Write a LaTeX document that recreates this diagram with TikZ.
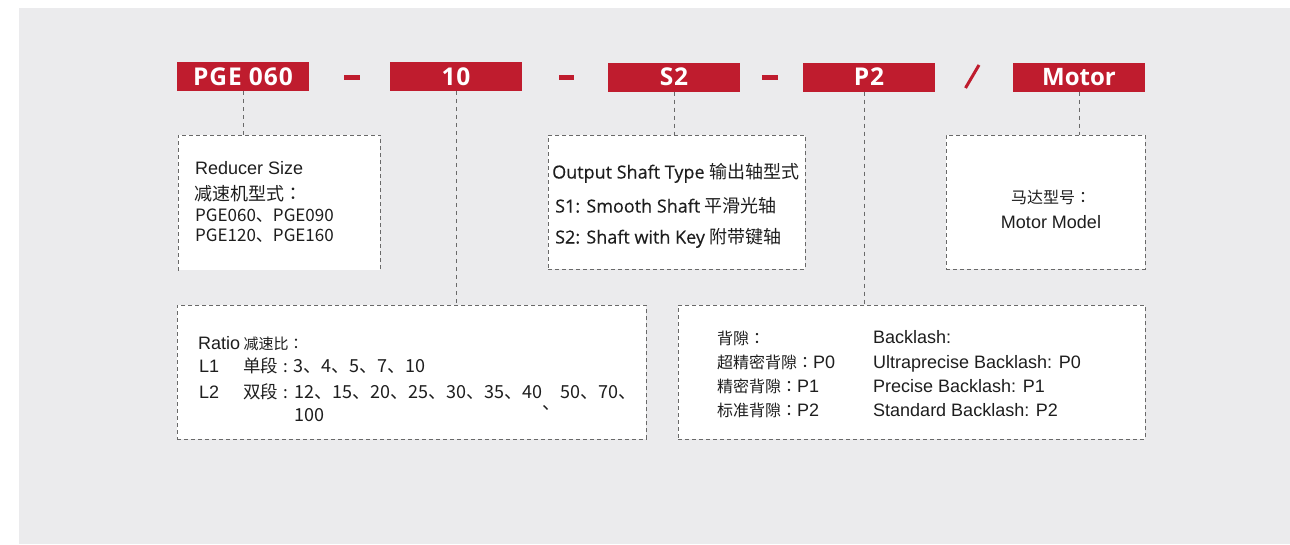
\documentclass[tikz,border=0pt]{standalone}
\usepackage{fontspec}
\setmainfont{Liberation Sans}
\newfontfamily\cjk{Noto Sans CJK SC}
\newfontfamily\cjktc{Noto Sans CJK TC}
\newfontfamily\osans{Open Sans}
\definecolor{bg}{RGB}{235,235,237}
\definecolor{brand}{RGB}{191,28,46}
\definecolor{dashc}{RGB}{105,105,105}
\definecolor{txt}{RGB}{30,30,30}
\newcommand{\fsz}[1]{\fontsize{#1}{#1}\selectfont}
\newcommand{\zc}{{\cjktc ：}}
\begin{document}
\begin{tikzpicture}[x=1pt,y=-1pt,
  redbox/.style={fill=brand, text=white, font=\osans\bfseries\fsz{24}, minimum width=132pt, minimum height=29pt, inner sep=0pt},
  wide/.style={font=\osans\bfseries\fsz{24.5}\addfontfeature{LetterSpace=4}},
  infobox/.style={fill=white, draw=dashc, line width=0.9pt, dash pattern=on 4pt off 3pt, inner sep=0pt, anchor=north west},
  border/.style={draw=dashc, line width=0.9pt, dash pattern=on 4pt off 3pt},
  conn/.style={draw=dashc, line width=1pt, dash pattern=on 4pt off 4pt},
  lat/.style={anchor=base west, inner sep=0pt, text=txt, font=\fsz{18}},
  cj/.style={anchor=base west, inner sep=0pt, text=txt, font=\cjk\fsz{17}},
  os/.style={anchor=base west, inner sep=0pt, text=txt, font=\osans\fsz{18}\addfontfeature{FakeBold=0.35}},
  sep/.style={fill=brand}]
\useasboundingbox (0,0) rectangle (1290,544);
\fill[white] (0,0) rectangle (1290,544);
\fill[bg] (19,8) rectangle (1290,544);

% code bar
\node[redbox, wide] (b1) at (243,76.5) {PGE\kern7pt 060};
\node[redbox, wide] (b2) at (456,76.5) {10};
\node[redbox, wide] (b3) at (674,77) {S2};
\node[redbox, wide] (b4) at (869,77) {P2};
\node[redbox] (b5) at (1079,77) {Motor};
\fill[sep] (344,75) rectangle (360,79.5);
\fill[sep] (559,75) rectangle (574,79.5);
\fill[sep] (762,75) rectangle (778,79.5);
\draw[brand, line width=3pt] (979,65) -- (965.5,88);

% boxes
\node[infobox, draw=none, minimum width=202pt, minimum height=135pt] (size) at (178,135) {};
\draw[border] (size.south west) -- (size.north west) -- (size.north east) -- (size.south east);
\node[infobox, minimum width=257pt, minimum height=134pt] (shaft) at (548,135) {};
\node[infobox, minimum width=199pt, minimum height=134pt] (motor) at (946,135) {};
\node[infobox, minimum width=469pt, minimum height=134pt] (ratio) at (177,305) {};
\node[infobox, minimum width=467pt, minimum height=134pt] (back) at (678,305) {};

% connectors
\coordinate (c4) at (864,200);
\draw[conn] (b1.south) -- (b1.south |- size.north);
\draw[conn] (b2.south) -- (b2.south |- ratio.north);
\draw[conn] (b3.south) -- (b3.south |- shaft.north);
\draw[conn] (b4.south -| c4) -- (c4 |- back.north);
\draw[conn] (b5.south) -- (b5.south |- motor.north);

% reducer size
\node[lat] (s1) at (195,174.5) {Reducer Size};
\node[cj, font=\cjk\fsz{18}] (s2) at (194,200) {减速机型式\zc};
\node[cj] (s3) at (195,221) {PGE060、PGE090};
\node[cj] (s4) at (195,241) {PGE120、PGE160};

% output shaft
\node[os] (o1) at (552,178.5) {Output Shaft Type {\cjk 输出轴型式}};
\node[os] (o2) at (555,212.5) {S1: Smooth Shaft {\cjk 平滑光轴}};
\node[os] (o3) at (555,243.5) {S2: Shaft with Key {\cjk 附带键轴}};

% motor
\node[cj, anchor=base, font=\cjk\fsz{16}] (m1) at (1051,203.5) {马达型号\zc};
\node[lat, anchor=base] (m2) at (1051,228.5) {Motor Model};

% ratio
\node[lat] (r1) at (198,349.5) {Ratio{\cjk\fsz{15} 减速比\zc}};
\node[lat] (r2) at (199,372.5) {L1};
\node[cj, font=\cjk\fsz{17.5}] (r3) at (243,372.5) {单段};
\node[cj] (r4) at (283,372.5) {:};
\node[cj, font=\cjk\fsz{18}] (r5) at (293,372.5) {3、4、5、7、10};
\node[lat] (r6) at (199,398.5) {L2};
\node[cj, font=\cjk\fsz{17.5}] (r7) at (243,398.5) {双段};
\node[cj] (r8) at (283,398.5) {:};
\node[cj, font=\cjk\fsz{18}] (r9) at (294,398.5) {12、15、20、25、30、35、40\makebox[0pt][l]{\hspace{0.02em}\raisebox{-0.6em}{、}}\hspace{1.05em}50、70、};
\node[cj, font=\cjk\fsz{18}] (r10) at (294,421.5) {100};

% backlash
\node[cj, font=\cjk\fsz{16}] (k1) at (717,344) {背隙\zc};
\node[cj, font=\cjk\fsz{16}] (k2) at (717,368.5) {超精密背隙\zc{\rmfamily\fsz{18}P0}};
\node[cj, font=\cjk\fsz{16}] (k3) at (717,392.5) {精密背隙\zc{\rmfamily\fsz{18}P1}};
\node[cj, font=\cjk\fsz{16}] (k4) at (717,416.5) {标准背隙\zc{\rmfamily\fsz{18}P2}};
\node[lat] (e1) at (873,343.5) {Backlash:};
\node[lat] (e2) at (873,368.5) {Ultraprecise Backlash: P0};
\node[lat] (e3) at (873,392.5) {Precise Backlash: P1};
\node[lat] (e4) at (873,416.5) {Standard Backlash: P2};
\end{tikzpicture}
\end{document}
